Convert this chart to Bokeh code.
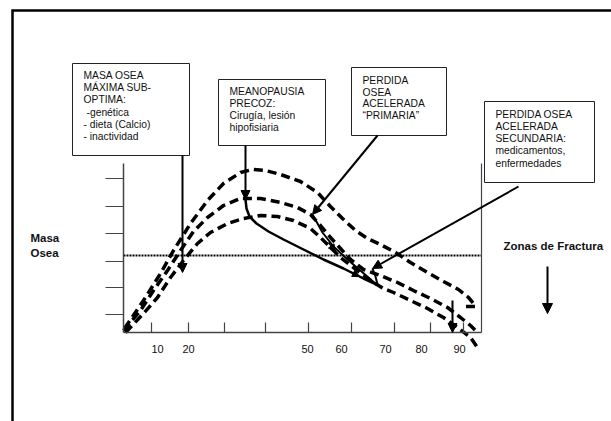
from bokeh.plotting import figure
from bokeh.models import Range1d, Arrow, NormalHead, ColumnDataSource
from bokeh.core.properties import value
from bokeh.embed import file_html
from bokeh.resources import INLINE

# Diagram coordinates: origin at the corner of the axes, y grows upward.
# --- bone-mass trajectories (dashed) ---
upper_x = [1, 20, 37, 50, 67, 84, 100, 117, 129, 142, 157, 177, 194, 207, 219, 232, 244, 257, 272, 287, 304, 320, 335, 345, 351, 352, 342]
upper_y = [4, 32, 59, 82, 109, 132, 149, 160, 163, 162, 158, 151, 140, 126, 114, 102, 94, 88, 80, 70, 60, 51, 43, 35, 28, 26, 26]
middle_x = [0, 17, 30, 44, 57, 70, 84, 100, 117, 137, 157, 174, 187, 197, 207, 217, 227, 240, 257, 274, 290, 307, 324, 337, 347, 352]
middle_y = [2, 22, 42, 62, 82, 101, 115, 127, 134, 134, 130, 125, 118, 107, 95, 84, 73, 63, 57, 50, 42, 34, 25, 15, 7, 2]
lower_x = [2, 20, 34, 47, 60, 74, 87, 104, 120, 137, 154, 170, 187, 197, 207, 217, 230, 247, 260, 270, 287, 304, 320, 334, 347, 354]
lower_y = [0, 19, 35, 55, 72, 89, 100, 109, 114, 117, 116, 112, 104, 95, 85, 75, 65, 52, 44, 40, 32, 24, 15, 5, -5, -15]

# --- accelerated-loss trajectories (solid) ---
meno_x = [122, 123, 126, 133, 145, 160, 180, 200, 220, 240, 253]
meno_y = [133, 124, 116, 109, 101, 93, 83, 73, 64, 54, 48]
prim_x = [189, 199, 210, 224, 238, 253]
prim_y = [118, 100, 86, 73, 61, 48]
sec_x = [249, 252, 254]
sec_y = [64, 56, 48]

# --- axes ---
y_ticks = [18, 45, 71, 99, 126, 154]
x_ticks = [28, 65, 101, 142, 185, 228, 271, 307, 340]
x_label_pos = [34, 65, 184, 218, 262, 298, 336]
x_labels = ["10", "20", "50", "60", "70", "80", "90"]
fracture_level = 77

# --- callout boxes ---
box_left = [-51, 95, 228, 361]
box_right = [66, 202, 323, 471]
box_top = [269, 253, 265, 231]
box_bottom = [177, 187, 197, 150]

box_text = ["MASA OSEA", "MÁXIMA SUB-", "OPTIMA:", "-genética", "- dieta (Calcio)", "- inactividad",
            "MEANOPAUSIA", "PRECOZ:", "Cirugía, lesión", "hipofisiaria",
            "PERDIDA", "OSEA", "ACELERADA", "“PRIMARIA”",
            "PERDIDA OSEA", "ACELERADA", "SECUNDARIA:", "medicamentos,", "enfermedades"]
box_text_x = [-40, -40, -40, -37, -40, -40,
              106, 106, 106, 106,
              239, 239, 239, 239,
              372, 372, 372, 372, 372]
box_text_y = [257, 245, 233, 220, 208, 196,
              241, 229.5, 217, 205,
              252, 240.5, 229, 217.5,
              218, 206, 194, 182, 169]

# callout arrows (from box to curve)
arr_x0 = [59, 122, 254, 395, 329]
arr_y0 = [177, 187, 197, 146, 32]
arr_x1 = [59, 122, 189, 249, 329]
arr_y1 = [60, 133, 118, 64, 0]

FONT = "Liberation Sans"

p = figure(width=611, height=421, output_backend="svg", toolbar_location=None,
           x_range=Range1d(-123, 488), y_range=Range1d(-89, 332),
           x_axis_type=None, y_axis_type=None, min_border=0)
p.grid.visible = False
p.outline_line_color = None
p.background_fill_color = "white"
p.border_fill_color = "white"

# page frame
p.line([-111, -111, 492], [-95, 322, 322], line_color="black", line_width=2.5, line_join="miter")

# dashed trajectories
for xs, ys in [(upper_x, upper_y), (middle_x, middle_y), (lower_x, lower_y)]:
    p.line(xs, ys, line_color="black", line_width=3.5, line_dash="9 5")

# fracture threshold (dotted)
p.line([0, 358], [fracture_level, fracture_level], line_color="black", line_width=2, line_dash="2 1")

# axes
p.line([0, 0], [0, 169], line_color="#444444", line_width=1.5)
p.line([0, 358], [0, 0], line_color="#444444", line_width=1.5)
p.line([358, 358], [0, 169], line_color="#444444", line_width=1.2)
p.segment(x0=[-18] * len(y_ticks), y0=y_ticks, x1=[0] * len(y_ticks), y1=y_ticks,
          line_color="#444444", line_width=1.2)
p.segment(x0=x_ticks, y0=[0] * len(x_ticks), x1=x_ticks, y1=[10] * len(x_ticks),
          line_color="#444444", line_width=1.2)
p.text(x=x_label_pos, y=[-16] * len(x_labels), text=x_labels, text_font=value(FONT),
       text_font_size="11px", text_align="center", text_baseline="middle", text_color="#111111")

# solid trajectories
p.line(meno_x, meno_y, line_color="black", line_width=2.5)
p.line(prim_x, prim_y, line_color="black", line_width=2)
p.line(sec_x, sec_y, line_color="black", line_width=2)

# callout boxes
p.quad(left=box_left, right=box_right, top=box_top, bottom=box_bottom,
       fill_color="white", line_color="#222222", line_width=1)
p.text(x=box_text_x, y=box_text_y, text=box_text, text_font=value(FONT),
       text_font_size="10.3px", text_align="left", text_baseline="middle", text_color="#111111")

# arrows
src = ColumnDataSource(dict(x0=arr_x0, y0=arr_y0, x1=arr_x1, y1=arr_y1))
p.add_layout(Arrow(end=NormalHead(size=9, fill_color="black", line_color="black"),
                   x_start="x0", y_start="y0", x_end="x1", y_end="y1", source=src,
                   line_color="black", line_width=2))
small = ColumnDataSource(dict(x0=[205, 226], y0=[90, 61], x1=[212, 236], y1=[81, 56]))
p.add_layout(Arrow(end=NormalHead(size=7, fill_color="black", line_color="black"),
                   x_start="x0", y_start="y0", x_end="x1", y_end="y1", source=small,
                   line_color="black", line_width=1.5))
p.add_layout(Arrow(end=NormalHead(size=10, fill_color="black", line_color="black"),
                   x_start=424, y_start=66, x_end=424, y_end=19,
                   line_color="black", line_width=2))

# side labels
p.text(x=[-93, -93], y=[95, 80], text=["Masa", "Osea"], text_font=value(FONT),
       text_font_size="11.5px", text_font_style="bold", text_align="left", text_baseline="middle",
       text_color="#111111")
p.text(x=[380], y=[87], text=["Zonas de Fractura"], text_font=value(FONT),
       text_font_size="11.5px", text_font_style="bold", text_align="left", text_baseline="middle",
       text_color="#111111")

open("out.html", "w").write(file_html(p, INLINE))
